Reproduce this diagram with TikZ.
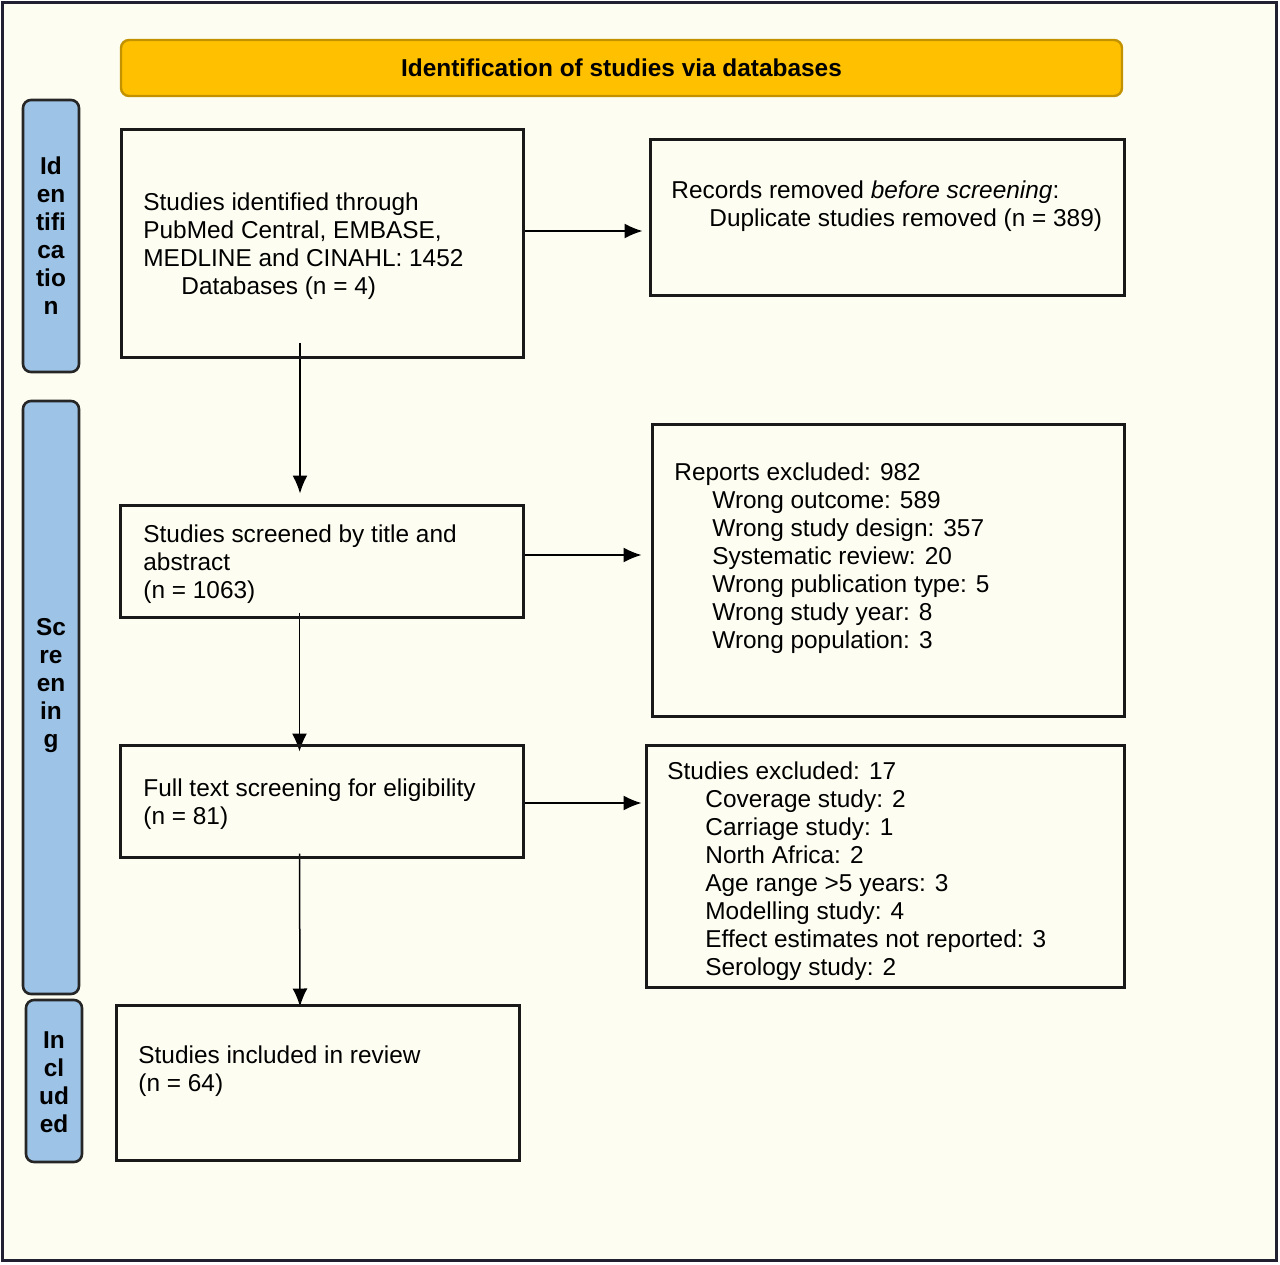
\documentclass[tikz,border=0pt]{standalone}
\usepackage{fontspec}
\setmainfont{Liberation Sans}
\usepackage{tikz}
\usetikzlibrary{arrows.meta}
\pgfdeclarelayer{bglayer}
\pgfdeclarelayer{edgelayer}
\pgfdeclarelayer{nodelayer}
\pgfsetlayers{bglayer,edgelayer,nodelayer,main}
\definecolor{pagecream}{HTML}{FDFDF2}
\definecolor{framedark}{HTML}{202030}
\definecolor{stageblue}{HTML}{9DC3E6}
\definecolor{headyellow}{HTML}{FFC000}
\definecolor{headedge}{HTML}{C29200}
\tikzstyle{none}=[inner sep=0pt]
\tikzstyle{boxtext}=[inner sep=0pt,anchor=north west,align=left]
\tikzstyle{stagelabel}=[inner sep=0pt,align=center,font=\fontsize{12.2}{14}\selectfont\bfseries]
\tikzstyle{stagebox}=[rectangle,rounded corners=4pt,fill=stageblue,draw=black!85,line width=1.3pt,minimum width=28pt]
\tikzstyle{flowbox}=[rectangle,draw=black!90,line width=1.5pt]
\tikzstyle{headbox}=[rectangle,rounded corners=4pt,fill=headyellow,draw=headedge,line width=1.2pt,font=\fontsize{12.2}{14}\selectfont\bfseries]
\tikzstyle{flow}=[-{Latex[length=9pt,width=7.5pt]},draw=black,line width=0.75pt]

\begin{document}
\begin{tikzpicture}[x=0.5pt,y=-0.5pt,font=\fontsize{12.2}{14}\selectfont]
	\useasboundingbox (0,0) rectangle (1280,1264);
	\begin{pgfonlayer}{bglayer}
		\draw [fill=pagecream,draw=framedark,line width=1.5pt] (2,2) rectangle (1276,1260);
	\end{pgfonlayer}
	\begin{pgfonlayer}{nodelayer}
		\node [style=headbox,minimum width=500.5pt,minimum height=28pt] (0) at (621.5, 68) {Identification of studies via databases};
		\node [style=stagebox,minimum height=136pt] (1) at (51, 236) {};
		\node [style=stagebox,minimum height=296.5pt] (2) at (51, 697.5) {};
		\node [style=stagebox,minimum height=81pt] (3) at (54, 1081) {};
		\node [style=stagelabel] (4) at (51, 236) {Id\\en\\tifi\\ca\\tio\\n};
		\node [style=stagelabel] (5) at (51, 686) {Sc\\re\\en\\in\\g};
		\node [style=stagelabel] (6) at (54, 1082) {In\\cl\\ud\\ed};
		\node [style=flowbox,minimum width=201pt,minimum height=114pt] (7) at (322, 243) {};
		\node [style=flowbox,minimum width=237pt,minimum height=78pt] (8) at (887, 217) {};
		\node [style=flowbox,minimum width=201.5pt,minimum height=56pt] (9) at (321.5, 561) {};
		\node [style=flowbox,minimum width=236pt,minimum height=146pt] (10) at (888, 570) {};
		\node [style=flowbox,minimum width=201.5pt,minimum height=56pt] (11) at (321.5, 801) {};
		\node [style=flowbox,minimum width=239pt,minimum height=121pt] (12) at (885, 866) {};
		\node [style=flowbox,minimum width=201.5pt,minimum height=77.5pt] (13) at (317.5, 1082.5) {};
		\node [style=boxtext] (14) at (143, 192) {Studies identified through\\PubMed Central, EMBASE,\\MEDLINE and CINAHL: 1452\\\hspace*{19pt}Databases (n = 4)};
		\node [style=boxtext] (15) at (671, 180) {Records removed \textit{before screening}:\\\hspace*{19pt}Duplicate studies removed (n = 389)};
		\node [style=boxtext] (16) at (143, 524) {Studies screened by title and\\abstract\\(n = 1063)};
		\node [style=boxtext] (17) at (674, 462) {Reports excluded: 982\\\hspace*{19pt}Wrong outcome: 589\\\hspace*{19pt}Wrong study design: 357\\\hspace*{19pt}Systematic review: 20\\\hspace*{19pt}Wrong publication type: 5\\\hspace*{19pt}Wrong study year: 8\\\hspace*{19pt}Wrong population: 3};
		\node [style=boxtext] (18) at (143, 778) {Full text screening for eligibility\\(n = 81)};
		\node [style=boxtext] (19) at (667, 761) {Studies excluded: 17\\\hspace*{19pt}Coverage study: 2\\\hspace*{19pt}Carriage study: 1\\\hspace*{19pt}North Africa: 2\\\hspace*{19pt}Age range >5 years: 3\\\hspace*{19pt}Modelling study: 4\\\hspace*{19pt}Effect estimates not reported: 3\\\hspace*{19pt}Serology study: 2};
		\node [style=boxtext] (20) at (138, 1045) {Studies included in review\\(n = 64)};
	\end{pgfonlayer}
	\begin{pgfonlayer}{edgelayer}
		\draw [style=flow] ([yshift=6pt]7.east) to ([xshift=-3pt,yshift=-7pt]8.west);
		\draw [style=flow] ([xshift=-11pt,yshift=8pt]7.south) to ([xshift=-10.75pt,yshift=5pt]9.north);
		\draw [style=flow] ([yshift=3pt]9.east) to ([xshift=-4.5pt,yshift=7.5pt]10.west);
		\draw [style=flow] ([xshift=-11pt,yshift=3pt]9.south) to ([xshift=-11pt,yshift=-4pt]11.north);
		\draw [style=flow] ([yshift=-1pt]11.east) to ([xshift=-1.5pt,yshift=31.5pt]12.west);
		\draw [style=flow] ([xshift=-11pt,yshift=2.5pt]11.south) to ([xshift=-8.75pt,yshift=-1.5pt]13.north);
	\end{pgfonlayer}
\end{tikzpicture}
\end{document}
